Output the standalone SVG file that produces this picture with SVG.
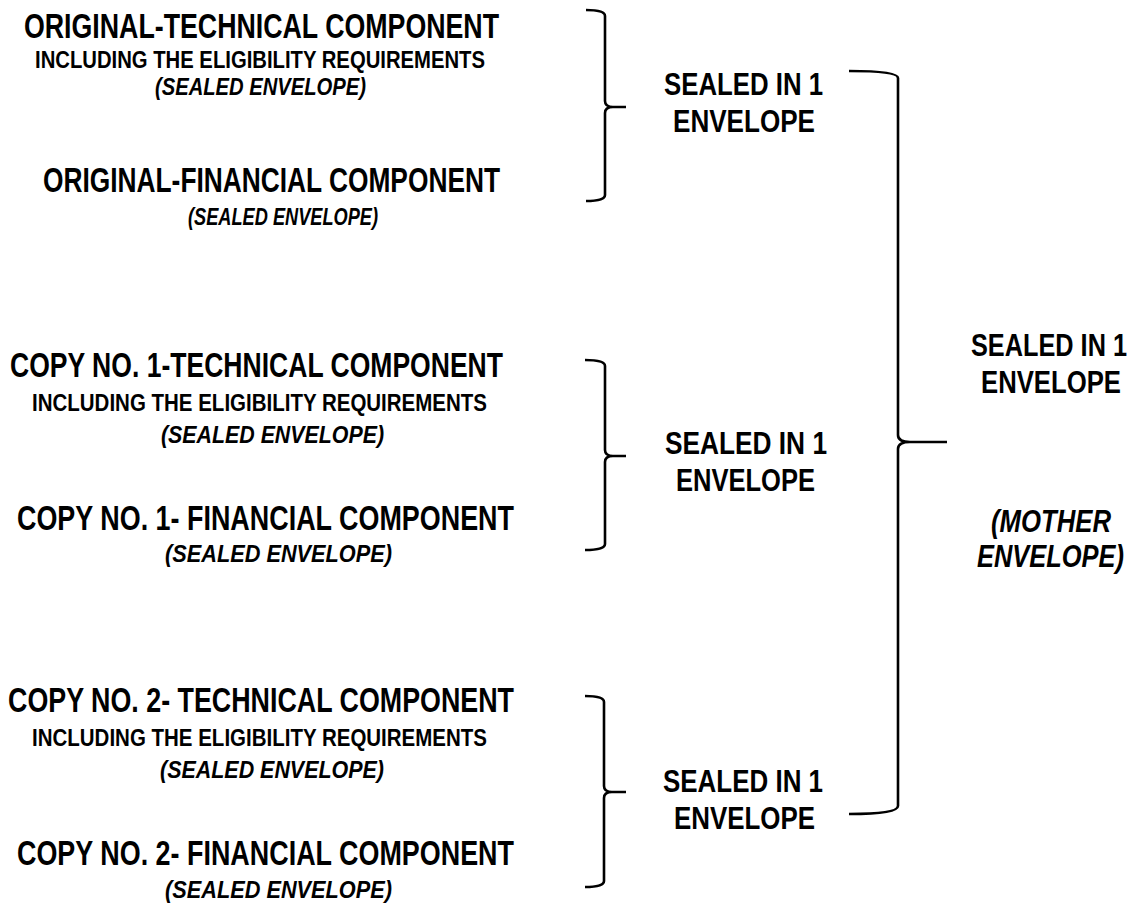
<svg xmlns="http://www.w3.org/2000/svg" width="1135" height="913" viewBox="0 0 1135 913">
<style>
text{font-family:"Liberation Sans Narrow","Liberation Sans",Arial,sans-serif;font-weight:bold;fill:#000;}
.h{font-size:35px;}
.s{font-size:24.5px;}
.i{font-size:24px;font-style:italic;}
.m{font-size:31.5px;}
.mi{font-size:31.5px;font-style:italic;}
.br{fill:none;stroke:#000;stroke-width:2.6;stroke-linecap:butt;stroke-linejoin:round;}
</style>
<rect width="1135" height="913" fill="#fff"/>
<g id="connectors">
<path class="br" d="M586 10 Q605 10 605 16 L605 101 Q605 107 613 107 L626 107 M613 107 Q605 107 605 113 L605 195 Q605 201 586 201"/>
<path class="br" d="M585 360 Q605 360 605 366 L605 450 Q605 456 613 456 L626 456 M613 456 Q605 456 605 462 L605 544 Q605 550 585 550"/>
<path class="br" d="M585 696 Q604 696 604 702 L604 786 Q604 792 612 792 L626 792 M612 792 Q604 792 604 798 L604 881 Q604 887 585 887"/>
<path class="br" d="M849 71 Q898 71 898 78 L898 435 Q898 442 910 442 L947 442 M910 442 Q898 442 898 449 L898 806 Q898 814 849 814"/>
</g>
<g id="orig-tech">
<text class="h" x="24" y="38" textLength="475" lengthAdjust="spacingAndGlyphs">ORIGINAL-TECHNICAL COMPONENT</text>
<text class="s" x="35" y="68" textLength="450" lengthAdjust="spacingAndGlyphs">INCLUDING THE ELIGIBILITY REQUIREMENTS</text>
<text class="i" x="155" y="95" textLength="211" lengthAdjust="spacingAndGlyphs">(SEALED ENVELOPE)</text>
</g>
<g id="orig-fin">
<text class="h" x="43" y="192" textLength="457" lengthAdjust="spacingAndGlyphs">ORIGINAL-FINANCIAL COMPONENT</text>
<text class="i" x="188" y="225" textLength="190" lengthAdjust="spacingAndGlyphs">(SEALED ENVELOPE)</text>
</g>
<g id="copy1-tech">
<text class="h" x="10" y="377" textLength="493" lengthAdjust="spacingAndGlyphs">COPY NO. 1-TECHNICAL COMPONENT</text>
<text class="s" x="32" y="411" textLength="455" lengthAdjust="spacingAndGlyphs">INCLUDING THE ELIGIBILITY REQUIREMENTS</text>
<text class="i" x="161" y="443" textLength="223" lengthAdjust="spacingAndGlyphs">(SEALED ENVELOPE)</text>
</g>
<g id="copy1-fin">
<text class="h" x="17" y="530" textLength="497" lengthAdjust="spacingAndGlyphs">COPY NO. 1- FINANCIAL COMPONENT</text>
<text class="i" x="165" y="562" textLength="227" lengthAdjust="spacingAndGlyphs">(SEALED ENVELOPE)</text>
</g>
<g id="copy2-tech">
<text class="h" x="8" y="712" textLength="506" lengthAdjust="spacingAndGlyphs">COPY NO. 2- TECHNICAL COMPONENT</text>
<text class="s" x="32" y="746" textLength="455" lengthAdjust="spacingAndGlyphs">INCLUDING THE ELIGIBILITY REQUIREMENTS</text>
<text class="i" x="160" y="778" textLength="224" lengthAdjust="spacingAndGlyphs">(SEALED ENVELOPE)</text>
</g>
<g id="copy2-fin">
<text class="h" x="17" y="865" textLength="497" lengthAdjust="spacingAndGlyphs">COPY NO. 2- FINANCIAL COMPONENT</text>
<text class="i" x="165" y="898" textLength="227" lengthAdjust="spacingAndGlyphs">(SEALED ENVELOPE)</text>
</g>
<g id="sealed-1">
<text class="m" x="664" y="95" textLength="159" lengthAdjust="spacingAndGlyphs">SEALED IN 1</text>
<text class="m" x="673" y="132" textLength="142" lengthAdjust="spacingAndGlyphs">ENVELOPE</text>
</g>
<g id="sealed-2">
<text class="m" x="665" y="454" textLength="162" lengthAdjust="spacingAndGlyphs">SEALED IN 1</text>
<text class="m" x="676" y="491" textLength="139" lengthAdjust="spacingAndGlyphs">ENVELOPE</text>
</g>
<g id="sealed-3">
<text class="m" x="663" y="792" textLength="160" lengthAdjust="spacingAndGlyphs">SEALED IN 1</text>
<text class="m" x="674" y="829" textLength="141" lengthAdjust="spacingAndGlyphs">ENVELOPE</text>
</g>
<g id="mother">
<text class="m" x="971" y="356" textLength="156" lengthAdjust="spacingAndGlyphs">SEALED IN 1</text>
<text class="m" x="981" y="393" textLength="140" lengthAdjust="spacingAndGlyphs">ENVELOPE</text>
<text class="mi" x="991" y="532" textLength="120" lengthAdjust="spacingAndGlyphs">(MOTHER</text>
<text class="mi" x="977" y="567" textLength="147" lengthAdjust="spacingAndGlyphs">ENVELOPE)</text>
</g>
</svg>
